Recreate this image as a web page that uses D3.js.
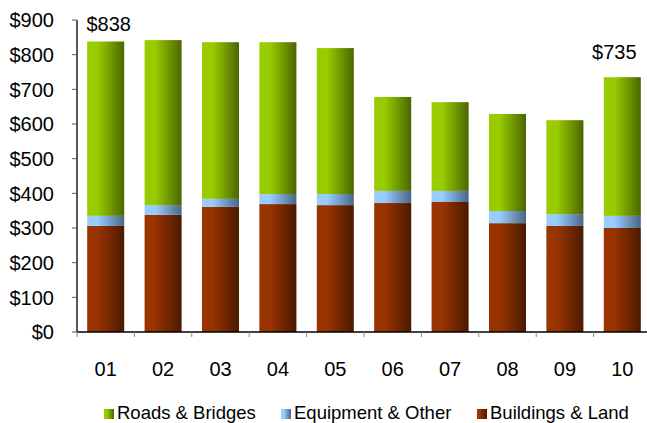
<!DOCTYPE html>
<html>
<head>
<meta charset="utf-8">
<script src="https://cdn.jsdelivr.net/npm/d3@7"></script>
<style>
  body { margin: 0; background: #fff; }
  svg { display: block; font-family: "Liberation Sans", Arial, sans-serif; }
</style>
</head>
<body>
<div id="chart"></div>
<script>
const years = ["01", "02", "03", "04", "05", "06", "07", "08", "09", "10"];
const buildings = [306, 338, 361, 369, 366, 372, 375, 314, 306, 300];
const equipment = [29, 28, 23, 29, 32, 35, 32, 35, 34, 35];
const roads = [503, 476, 452, 438, 421, 271, 256, 280, 271, 400];
const yTicks = [0, 100, 200, 300, 400, 500, 600, 700, 800, 900];
const callouts = [{ i: 0, text: "$838", dx: 3, dy: -10 }, { i: 9, text: "$735", dx: -8, dy: -18 }];

const W = 647, H = 423;
const plotLeft = 77, plotBottom = 332, plotTop = 20;

const svg = d3.select("#chart").append("svg").attr("width", W).attr("height", H);

const series = [
  { key: "buildings", name: "Buildings & Land", vals: buildings, c0: "#993300", c1: "#4a1a00" },
  { key: "equipment", name: "Equipment & Other", vals: equipment, c0: "#99ccff", c1: "#4a6688" },
  { key: "roads", name: "Roads & Bridges", vals: roads, c0: "#99cc00", c1: "#4a6600" }
];

// gradients
const defs = svg.append("defs");
series.forEach(s => {
  const g = defs.append("linearGradient").attr("id", "g-" + s.key)
    .attr("x1", 0).attr("x2", 1).attr("y1", 0).attr("y2", 0);
  g.append("stop").attr("offset", "0").attr("stop-color", s.c0);
  g.append("stop").attr("offset", "0.28").attr("stop-color", s.c0);
  g.append("stop").attr("offset", "1").attr("stop-color", s.c1);
});

const x = d3.scaleBand().domain(years).range([plotLeft, plotLeft + 574])
  .paddingInner(0.355).paddingOuter(0.1775);
const y = d3.scaleLinear().domain([0, 900]).range([plotBottom, plotTop]);

const rows = years.map((yr, i) => ({ yr, buildings: buildings[i], equipment: equipment[i], roads: roads[i] }));
const stack = d3.stack().keys(series.map(s => s.key))(rows);

svg.append("g").selectAll("g")
  .data(stack).enter()
  .append("g")
  .attr("fill", d => `url(#g-${d.key})`)
  .selectAll("rect")
  .data(d => d).enter()
  .append("rect")
  .attr("x", d => x(d.data.yr))
  .attr("width", x.bandwidth())
  .attr("y", d => y(d[1]))
  .attr("height", d => y(d[0]) - y(d[1]));

// y axis
const yAxis = svg.append("g");
yAxis.append("line").attr("x1", plotLeft).attr("x2", plotLeft).attr("y1", plotTop).attr("y2", plotBottom)
  .attr("stroke", "#000").attr("stroke-width", 1.3);
yAxis.selectAll(".tk").data(yTicks).enter().append("line")
  .attr("x1", plotLeft - 5).attr("x2", plotLeft).attr("y1", d => y(d)).attr("y2", d => y(d))
  .attr("stroke", "#555");
yAxis.selectAll("text").data(yTicks).enter().append("text")
  .attr("x", 54).attr("y", d => y(d)).attr("dy", "0.36em")
  .attr("text-anchor", "end").attr("font-size", 20).attr("fill", "#000")
  .text(d => "$" + d);

// x axis
const xAxis = svg.append("g");
xAxis.append("line").attr("x1", plotLeft).attr("x2", plotLeft + 574).attr("y1", plotBottom).attr("y2", plotBottom)
  .attr("stroke", "#000").attr("stroke-width", 1.3);
const bounds = d3.range(years.length + 1).map(i => plotLeft + i * x.step());
xAxis.selectAll(".tk").data(bounds).enter().append("line")
  .attr("x1", d => d).attr("x2", d => d).attr("y1", plotBottom).attr("y2", plotBottom + 5)
  .attr("stroke", "#888");
xAxis.selectAll("text").data(years).enter().append("text")
  .attr("x", d => x(d) + x.bandwidth() / 2).attr("y", 375.5)
  .attr("text-anchor", "middle").attr("font-size", 20).attr("fill", "#000")
  .text(d => d);

// callouts
svg.selectAll(".callout").data(callouts).enter().append("text")
  .attr("x", d => x(years[d.i]) + x.bandwidth() / 2 + d.dx)
  .attr("y", d => y(buildings[d.i] + equipment[d.i] + roads[d.i]) + d.dy)
  .attr("text-anchor", "middle").attr("font-size", 20).attr("fill", "#000")
  .text(d => d.text);

// legend
const legendItems = [series[2], series[1], series[0]];
const legendX = [104, 281, 477];
const legend = svg.append("g");
legendItems.forEach((s, i) => {
  legend.append("rect").attr("x", legendX[i]).attr("y", 409).attr("width", 10).attr("height", 10)
    .attr("fill", `url(#g-${s.key})`);
  legend.append("text").attr("x", legendX[i] + 13).attr("y", 419)
    .attr("font-size", 18.5).attr("fill", "#000").text(s.name);
});
</script>
</body>
</html>
